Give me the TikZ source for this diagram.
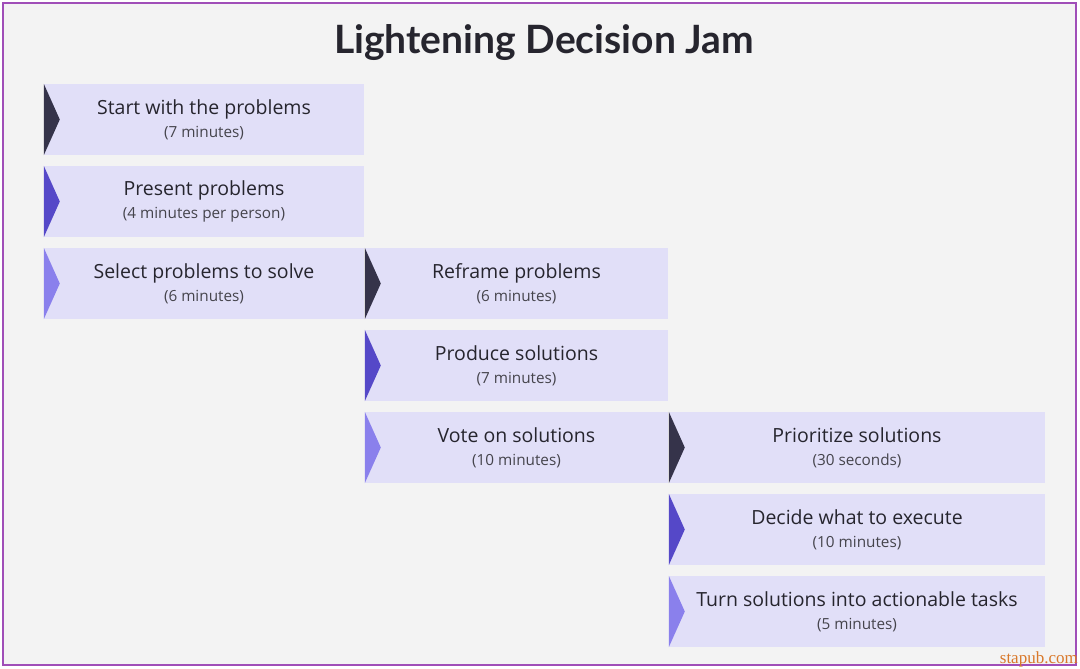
\documentclass[tikz,border=0pt]{standalone}
\usepackage{fontspec}
\setmainfont{Open Sans}
\newfontfamily\titlefont{Lato}
\newfontfamily\markfont{Liberation Serif}
\usetikzlibrary{calc}
\definecolor{boxfill}{HTML}{E1DFF8}
\definecolor{tipdark}{HTML}{35334A}
\definecolor{tipmid}{HTML}{5548C8}
\definecolor{tiplight}{HTML}{8A80EC}
\definecolor{paper}{HTML}{F3F3F3}
\definecolor{framecol}{HTML}{A04EB8}
\definecolor{inktext}{HTML}{26252E}
\definecolor{subtext}{HTML}{45444C}
\definecolor{markcol}{HTML}{D9782A}
\newcommand{\stepsub}[1]{\\[1pt]{\fontsize{15.3}{18}\selectfont\color{subtext}#1}}

\begin{document}
\begin{tikzpicture}[x=1pt,y=-1pt,
  stepbox/.style={fill=boxfill,minimum height=71pt,inner sep=0pt,align=center,
    text=inktext,font=\fontsize{19.5}{22}\selectfont},
  colone/.style={stepbox,minimum width=320pt},
  coltwo/.style={stepbox,minimum width=303pt},
  colthree/.style={stepbox,minimum width=376pt}]
\useasboundingbox (0,0) rectangle (1080,669);
\fill[white] (0,0) rectangle (1080,669);
\draw[framecol,line width=2.5pt,fill=paper] (3,3) rectangle (1076,665);

\node[font=\titlefont\bfseries\fontsize{39}{42}\selectfont,text=inktext] (title) at (544,43) {Lightening Decision Jam};

% first column
\node[colone] (start) at (204,119.5) {Start with the problems\stepsub{(7 minutes)}};
\node[colone] (present) at (204,201.5) {Present problems\stepsub{(4 minutes per person)}};
\node[colone] (select) at (204,283.5) {Select problems to solve\stepsub{(6 minutes)}};
% second column
\node[coltwo] (reframe) at (516.5,283.5) {Reframe problems\stepsub{(6 minutes)}};
\node[coltwo] (produce) at (516.5,365.5) {Produce solutions\stepsub{(7 minutes)}};
\node[coltwo] (vote) at (516.5,447.5) {Vote on solutions\stepsub{(10 minutes)}};
% third column
\node[colthree] (prioritize) at (857,447.5) {Prioritize solutions\stepsub{(30 seconds)}};
\node[colthree] (decide) at (857,529.5) {Decide what to execute\stepsub{(10 minutes)}};
\node[colthree] (turn) at (857,611.5) {Turn solutions into actionable tasks\stepsub{(5 minutes)}};

% chevrons
\foreach \n/\c in {start/tipdark,present/tipmid,select/tiplight,
                   reframe/tipdark,produce/tipmid,vote/tiplight,
                   prioritize/tipdark,decide/tipmid,turn/tiplight}
  \fill[\c] (\n.north west) -- ($(\n.west)+(16,0)$) -- (\n.south west) -- cycle;

\node[font=\markfont\fontsize{17}{18}\selectfont,text=markcol,anchor=south east,inner sep=0pt] (mark) at (1078,667) {stapub.com};
\end{tikzpicture}
\end{document}
